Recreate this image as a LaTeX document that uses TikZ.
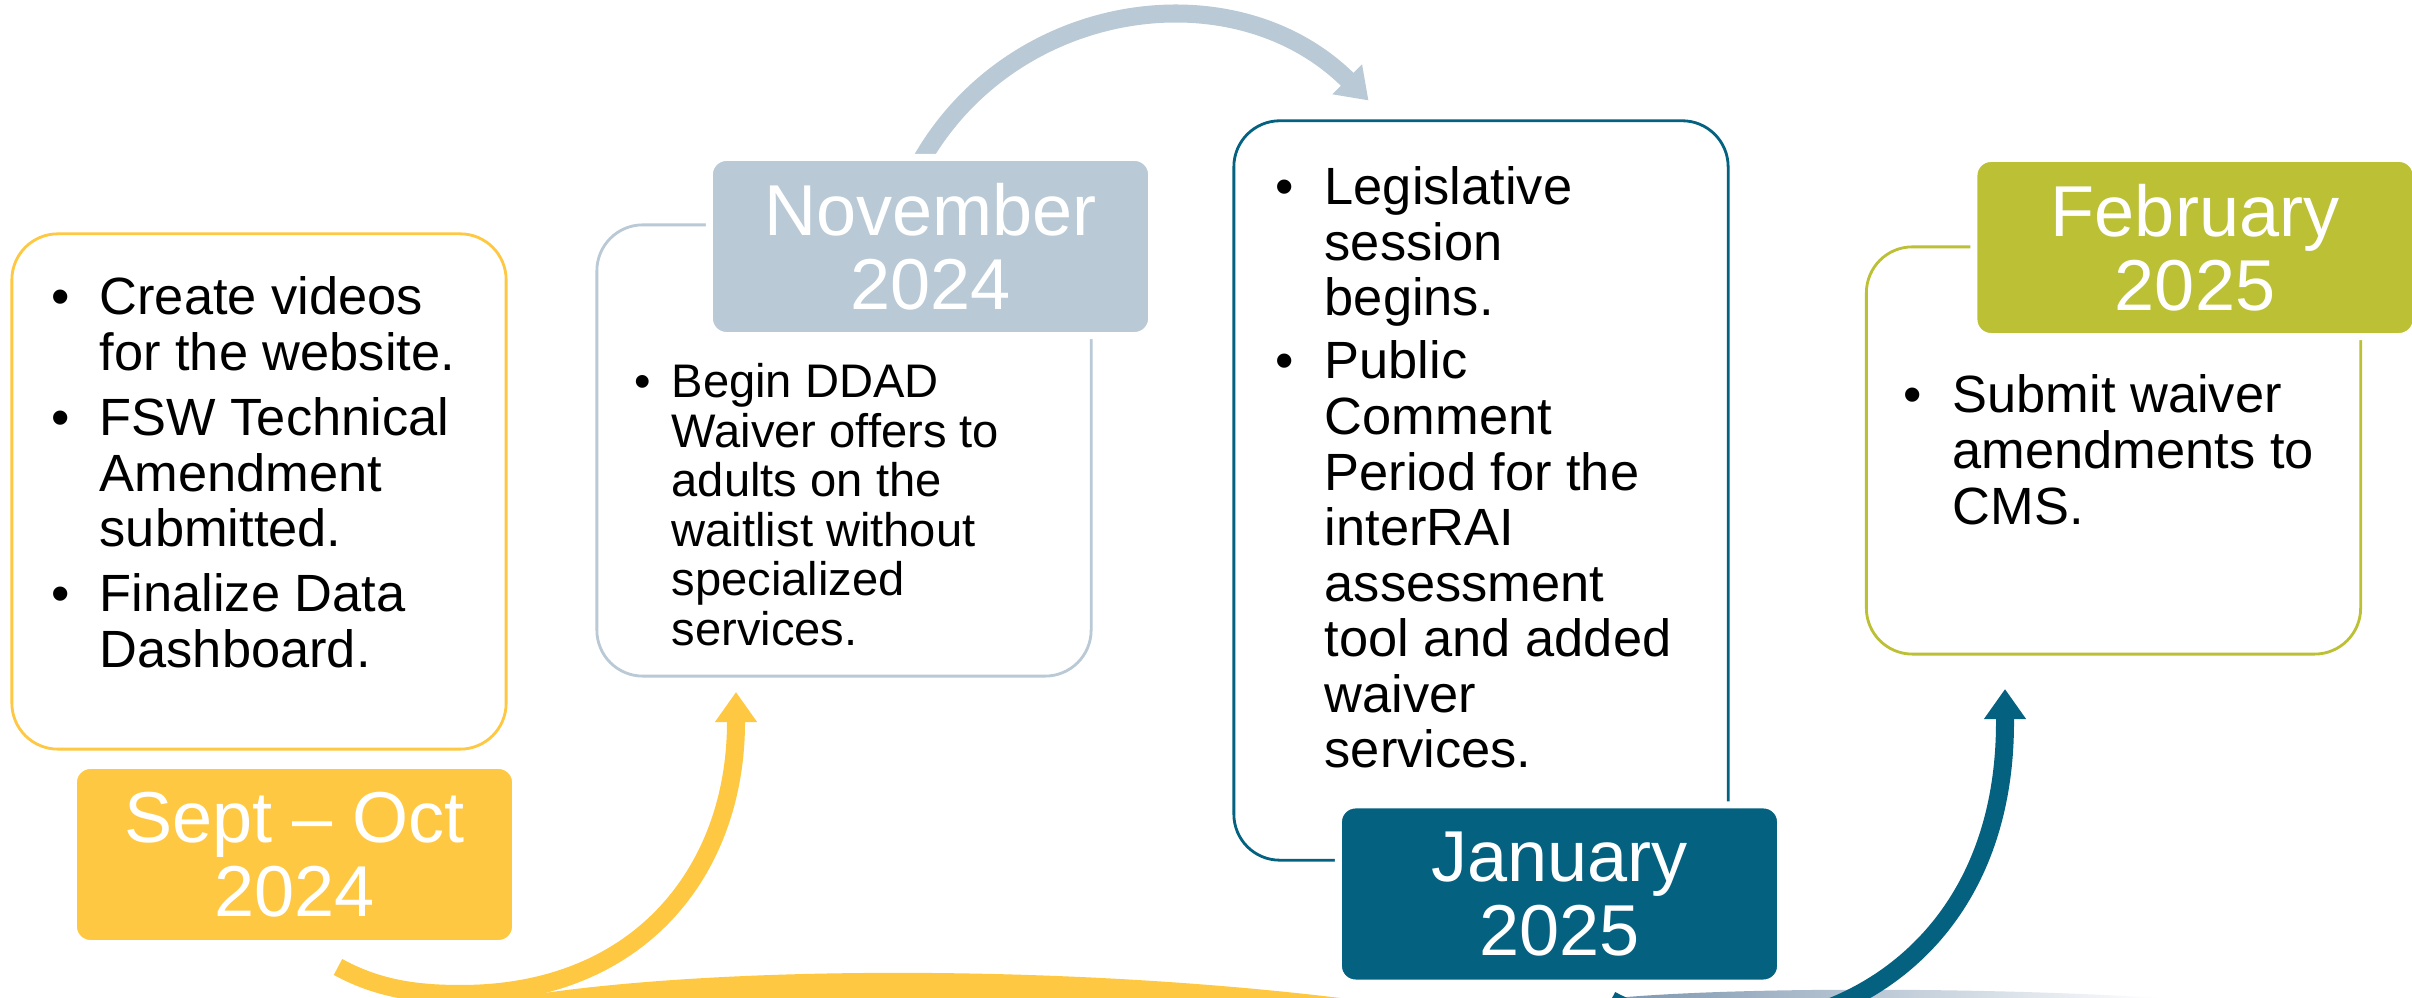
\documentclass[tikz,border=0pt]{standalone}
\usepackage{fontspec}
\setmainfont{Liberation Sans}
\usetikzlibrary{arrows.meta}
\definecolor{sunyellow}{RGB}{254,200,66}
\definecolor{mistblue}{RGB}{185,201,213}
\definecolor{deepteal}{RGB}{4,97,128}
\definecolor{olivegreen}{RGB}{188,192,53}
\definecolor{swooshgray}{RGB}{125,150,175}
\tikzset{
	card/.style = {draw=#1, line width=0.8pt, fill=white, rounded corners=0.46cm,
			minimum width=4.94cm, inner sep=0pt},
	datebox/.style = {fill=#1, draw=white, line width=2pt, rounded corners=0.17cm,
			minimum width=4.42cm, minimum height=1.78cm, inner sep=0pt,
			text=white, align=center, font=\fontsize{20.5}{21.06}\selectfont},
	bulletlist/.style = {anchor=base west, inner sep=0pt, font=\fontsize{14.9}{15.8}\selectfont},
	flowarrow/.style = {draw=#1, line width=0.18cm, -{Triangle[width=0.4cm, length=0.3cm]}},
}

\begin{document}
\begin{tikzpicture}[x=0.01cm, y=0.01cm]
	% ====== Frame ========
	\useasboundingbox (0,0) rectangle (2412,998);
	\clip (0,0) rectangle (2412,998);
	\fill[white] (0,0) rectangle (2412,998);
	% ====== Swooshes ========
	\fill[sunyellow] (512,0) .. controls (700,32) and (1050,35) .. (1340,0) -- cycle;
	\shade[left color=swooshgray, middle color=swooshgray, right color=white]
		(1615,0) .. controls (1750,12) and (2000,10) .. (2160,0) -- cycle;
	% ====== Arrow ends ========
	\coordinate (S1) at (338,31);
	\coordinate (E1) at (736,306);
	\coordinate (S2) at (916.8,829.2);
	\coordinate (E2) at (1368.5,897.5);
	\coordinate (S3) at (1611,-2);
	\coordinate (E3) at (2005,309);
	% ====== Arrows ========
	\draw[flowarrow=sunyellow] (S1) .. controls (380,8) and (420,4) .. (461,4)
		.. controls (640,4) and (736,128) .. (736,276) -- (E1);
	\draw[flowarrow=mistblue] (S2) .. controls (1006,998) and (1233,1032) .. (E2);
	\draw[flowarrow=deepteal] (S3) .. controls (1750,-77) and (2005,-2) .. (2005,276) -- (E3);
	% ====== Cards ========
	\node[card=sunyellow, minimum height=5.15cm] (sepCard) at (259,506.5) {};
	\node[card=mistblue, minimum height=4.51cm] (novCard) at (844,547.5) {};
	\node[card=deepteal, minimum height=7.39cm] (janCard) at (1481,507.5) {};
	\node[card=olivegreen, minimum height=4.07cm] (febCard) at (2113.5,547.5) {};
	% ====== Dates ========
	\node[datebox=sunyellow] (sepDate) at (294.5,143.5) {Sept \textendash{} Oct\\2024};
	\node[datebox=mistblue] (novDate) at (930.5,751.5) {November\\2024};
	\node[datebox=deepteal] (janDate) at (1559.5,104) {January\\2025};
	\node[datebox=olivegreen] (febDate) at (2195,750.5) {February\\2025};
	% ====== Lists ========
	\node[bulletlist] (sepList) at (51,683) {\begin{tabular}[t]{@{}p{0.48cm}@{}l@{}}
		\textbullet & Create videos\\
		& for the website.\\[2.7pt]
		\textbullet & FSW Technical\\
		& Amendment\\
		& submitted.\\[2.7pt]
		\textbullet & Finalize Data\\
		& Dashboard.
	\end{tabular}};
	\node[bulletlist, font=\fontsize{13.4}{14.05}\selectfont] (novList) at (634,600) {\begin{tabular}[t]{@{}p{0.37cm}@{}l@{}}
		\textbullet & Begin DDAD\\
		& Waiver offers to\\
		& adults on the\\
		& waitlist without\\
		& specialized\\
		& services.
	\end{tabular}};
	\node[bulletlist] (janList) at (1275,793.5) {\begin{tabular}[t]{@{}p{0.49cm}@{}l@{}}
		\textbullet & Legislative\\
		& session\\
		& begins.\\[2.2pt]
		\textbullet & Public\\
		& Comment\\
		& Period for the\\
		& interRAI\\
		& assessment\\
		& tool and added\\
		& waiver\\
		& services.
	\end{tabular}};
	\node[bulletlist] (febList) at (1903,585) {\begin{tabular}[t]{@{}p{0.49cm}@{}l@{}}
		\textbullet & Submit waiver\\
		& amendments to\\
		& CMS.
	\end{tabular}};
\end{tikzpicture}
\end{document}
